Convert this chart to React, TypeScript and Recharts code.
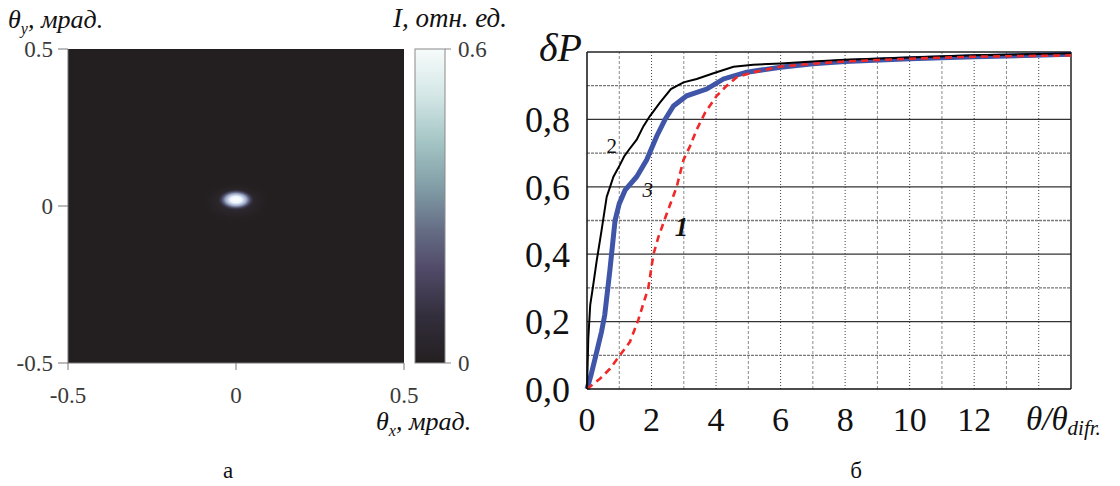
import React from 'react';
import {
  ComposedChart,
  LineChart,
  Line,
  XAxis,
  YAxis,
  ReferenceArea,
  ReferenceLine,
  ReferenceDot,
  Scatter,
} from 'recharts';

// ---------- Panel (a): angular intensity distribution ----------
const mapTicks = [-0.5, 0, 0.5];
const mapExtent = { min: -0.5, max: 0.5 };
const spot = [{ x: 0, y: 0.02, I: 0.6 }];
const colorbarTicks = [0, 0.6];
const colorbarStops = [
  { offset: 0, color: '#f7fbfb' },
  { offset: 0.15, color: '#d3e6e6' },
  { offset: 0.3, color: '#a3c4c4' },
  { offset: 0.45, color: '#7f9aa4' },
  { offset: 0.58, color: '#646c84' },
  { offset: 0.7, color: '#514a68' },
  { offset: 0.85, color: '#332e3c' },
  { offset: 1, color: '#231f20' },
];
const colorbarData = [
  { x: 0.5, y: 0 },
  { x: 0.5, y: 0.6 },
];

// ---------- Panel (б): encircled energy curves ----------
const curve1 = [
  { x: 0, y: 0 }, { x: 0.4, y: 0.03 }, { x: 0.71, y: 0.06 }, { x: 1.02, y: 0.1 },
  { x: 1.33, y: 0.14 }, { x: 1.59, y: 0.205 }, { x: 1.9, y: 0.3 }, { x: 2.06, y: 0.4 },
  { x: 2.21, y: 0.45 }, { x: 2.47, y: 0.52 }, { x: 2.78, y: 0.6 }, { x: 2.99, y: 0.68 },
  { x: 3.19, y: 0.72 }, { x: 3.4, y: 0.77 }, { x: 3.66, y: 0.82 }, { x: 4.02, y: 0.87 },
  { x: 4.33, y: 0.9 }, { x: 4.64, y: 0.925 }, { x: 5.16, y: 0.94 }, { x: 6, y: 0.957 },
  { x: 7, y: 0.965 }, { x: 8, y: 0.972 }, { x: 10, y: 0.98 }, { x: 12, y: 0.986 },
  { x: 15, y: 0.99 },
];
const curve2 = [
  { x: 0, y: 0 }, { x: 0.04, y: 0.15 }, { x: 0.1, y: 0.25 }, { x: 0.18, y: 0.3 },
  { x: 0.3, y: 0.38 }, { x: 0.45, y: 0.47 }, { x: 0.61, y: 0.57 }, { x: 0.82, y: 0.63 },
  { x: 1.02, y: 0.665 }, { x: 1.15, y: 0.69 }, { x: 1.3, y: 0.71 }, { x: 1.54, y: 0.74 },
  { x: 1.75, y: 0.78 }, { x: 1.95, y: 0.81 }, { x: 2.26, y: 0.85 }, { x: 2.6, y: 0.89 },
  { x: 2.99, y: 0.91 }, { x: 3.4, y: 0.92 }, { x: 3.92, y: 0.937 }, { x: 4.54, y: 0.956 },
  { x: 5.15, y: 0.962 }, { x: 6, y: 0.966 }, { x: 7, y: 0.972 }, { x: 8, y: 0.977 },
  { x: 10, y: 0.984 }, { x: 12, y: 0.99 }, { x: 15, y: 0.996 },
];
const curve3 = [
  { x: 0, y: 0 }, { x: 0.12, y: 0.04 }, { x: 0.25, y: 0.09 }, { x: 0.45, y: 0.17 },
  { x: 0.55, y: 0.22 }, { x: 0.71, y: 0.353 }, { x: 0.87, y: 0.5 }, { x: 1.0, y: 0.55 },
  { x: 1.18, y: 0.59 }, { x: 1.54, y: 0.63 }, { x: 1.85, y: 0.68 }, { x: 2.16, y: 0.75 },
  { x: 2.42, y: 0.8 }, { x: 2.68, y: 0.84 }, { x: 3.09, y: 0.87 }, { x: 3.71, y: 0.89 },
  { x: 4.23, y: 0.92 }, { x: 4.95, y: 0.94 }, { x: 6, y: 0.955 }, { x: 7, y: 0.965 },
  { x: 8, y: 0.972 }, { x: 10, y: 0.98 }, { x: 12, y: 0.986 }, { x: 15, y: 0.993 },
];
const xTicks = [0, 1, 2, 3, 4, 5, 6, 7, 8, 9, 10, 11, 12, 13, 14, 15];
const xLabelTicks = [0, 2, 4, 6, 8, 10, 12];
const yTicks = [0, 0.1, 0.2, 0.3, 0.4, 0.5, 0.6, 0.7, 0.8, 0.9, 1.0];
const yLabelTicks = [0, 0.2, 0.4, 0.6, 0.8];
const yGridMajor = [0.2, 0.4, 0.6, 0.8];
const yGridMinor = [0.1, 0.3, 0.5, 0.7, 0.9];
const xGridEven = [2, 4, 6, 8, 10, 12, 14];
const xGridOdd = [1, 3, 5, 7, 9, 11, 13];
const curveLabels = [
  { x: 0.77, y: 0.72, text: '2', size: 21, italic: false, bold: false },
  { x: 1.88, y: 0.59, text: '3', size: 21, italic: true, bold: false },
  { x: 2.93, y: 0.48, text: '1', size: 27, italic: true, bold: true },
];

const SERIF = '"Liberation Serif", "DejaVu Serif", serif';

const SpotShape = (props: any) => {
  const { cx, cy } = props;
  if (cx == null || cy == null) return null;
  return (
    <g>
      <defs>
        <radialGradient id="spotHalo">
          <stop offset="0%" stopColor="#4a4660" stopOpacity={0.6} />
          <stop offset="100%" stopColor="#231f20" stopOpacity={0} />
        </radialGradient>
        <radialGradient id="spotCore">
          <stop offset="0%" stopColor="#ffffff" stopOpacity={1} />
          <stop offset="30%" stopColor="#eef6ff" stopOpacity={1} />
          <stop offset="55%" stopColor="#a9b8d8" stopOpacity={0.9} />
          <stop offset="80%" stopColor="#4d4d72" stopOpacity={0.5} />
          <stop offset="100%" stopColor="#231f20" stopOpacity={0} />
        </radialGradient>
      </defs>
      <ellipse cx={cx} cy={cy + 2} rx={38} ry={22} fill="url(#spotHalo)" />
      <ellipse cx={cx} cy={cy} rx={19} ry={11} fill="url(#spotCore)" />
    </g>
  );
};

const ColorbarRect = (props: any) => {
  const { x, y, width, height } = props;
  return (
    <g>
      <defs>
        <linearGradient id="cbGrad" x1="0" y1="0" x2="0" y2="1">
          {colorbarStops.map((s) => (
            <stop key={s.offset} offset={`${s.offset * 100}%`} stopColor={s.color} />
          ))}
        </linearGradient>
      </defs>
      <rect x={x} y={y} width={width} height={height} fill="url(#cbGrad)" stroke="#8a8a8a" strokeWidth={1} />
    </g>
  );
};

const EmptyShape = () => <g />;

const CurveLabel = (item: any) => (props: any) => {
  const vb = props.viewBox || {};
  const x = vb.x ?? props.x;
  const y = vb.y ?? props.y;
  return (
    <text
      x={x}
      y={y}
      textAnchor="middle"
      dominantBaseline="central"
      fontFamily={SERIF}
      fontSize={item.size}
      fontStyle={item.italic ? 'italic' : 'normal'}
      fontWeight={item.bold ? 'bold' : 'normal'}
      fill="#111"
    >
      {item.text}
    </text>
  );
};

export default function App() {
  return (
    <div
      style={{
        position: 'absolute',
        left: 0,
        top: 0,
        width: 1120,
        height: 486,
        background: '#ffffff',
        overflow: 'hidden',
      }}
    >
      {/* Panel a: map */}
      <div style={{ position: 'absolute', left: 0, top: 0 }}>
        <ComposedChart
          width={520}
          height={486}
          margin={{ top: 49, right: 116, bottom: 93, left: 18 }}
        >
          <XAxis
            type="number"
            dataKey="x"
            domain={[mapExtent.min, mapExtent.max]}
            ticks={mapTicks}
            interval={0}
            height={30}
            tickSize={7}
            tickMargin={17}
            axisLine={{ stroke: '#777' }}
            tickLine={{ stroke: '#777' }}
            tick={{ fontFamily: SERIF, fontSize: 23, fill: '#3a3a3a' }}
            tickFormatter={(v: number) => String(v)}
          />
          <YAxis
            type="number"
            dataKey="y"
            domain={[mapExtent.min, mapExtent.max]}
            ticks={mapTicks}
            interval={0}
            width={50}
            tickSize={10}
            tickMargin={5}
            axisLine={{ stroke: '#777' }}
            tickLine={{ stroke: '#777' }}
            tick={{ fontFamily: SERIF, fontSize: 23, fill: '#3a3a3a' }}
            tickFormatter={(v: number) => String(v)}
          />
          <ReferenceArea
            x1={mapExtent.min}
            x2={mapExtent.max}
            y1={mapExtent.min}
            y2={mapExtent.max}
            fill="#231f20"
            fillOpacity={1}
            stroke="none"
            ifOverflow="visible"
          />
          <Scatter data={spot} dataKey="y" shape={SpotShape} isAnimationActive={false} />
        </ComposedChart>
      </div>

      {/* Panel a: colorbar */}
      <div style={{ position: 'absolute', left: 400, top: 0 }}>
        <ComposedChart
          width={120}
          height={486}
          data={colorbarData}
          margin={{ top: 49, right: 25, bottom: 123, left: 15 }}
        >
          <XAxis type="number" dataKey="x" domain={[0, 1]} hide />
          <YAxis
            type="number"
            dataKey="y"
            orientation="right"
            domain={[colorbarTicks[0], colorbarTicks[1]]}
            ticks={colorbarTicks}
            interval={0}
            width={50}
            tickSize={6}
            tickMargin={7}
            axisLine={false}
            tickLine={{ stroke: '#888' }}
            tick={{ fontFamily: SERIF, fontSize: 23, fill: '#3a3a3a' }}
            tickFormatter={(v: number) => String(v)}
          />
          <ReferenceArea
            x1={0}
            x2={1}
            y1={colorbarTicks[0]}
            y2={colorbarTicks[1]}
            shape={ColorbarRect}
            ifOverflow="visible"
          />
          <Scatter data={colorbarData} dataKey="y" shape={EmptyShape} isAnimationActive={false} />
        </ComposedChart>
      </div>

      {/* Panel б: curves */}
      <div style={{ position: 'absolute', left: 480, top: 0 }}>
        <LineChart
          width={640}
          height={486}
          margin={{ top: 52, right: 49, bottom: 57, left: 17 }}
        >
          <XAxis
            type="number"
            dataKey="x"
            domain={[0, 15]}
            ticks={xTicks}
            interval={0}
            height={40}
            tickLine={false}
            tickMargin={12}
            axisLine={{ stroke: '#111', strokeWidth: 1.5 }}
            tick={{ fontFamily: SERIF, fontSize: 34, fill: '#111' }}
            tickFormatter={(v: number) => (xLabelTicks.includes(v) ? String(v) : '')}
          />
          <YAxis
            type="number"
            dataKey="y"
            domain={[0, 1]}
            ticks={yTicks}
            interval={0}
            width={90}
            tickLine={false}
            tickMargin={11}
            axisLine={{ stroke: '#111', strokeWidth: 1.5 }}
            tick={{ fontFamily: SERIF, fontSize: 36, fill: '#111' }}
            tickFormatter={(v: number) => {
              const m = yLabelTicks.find((t) => Math.abs(t - v) < 1e-6);
              return m === undefined ? '' : m.toFixed(1).replace('.', ',');
            }}
          />
          {xGridOdd.map((v) => (
            <ReferenceLine key={`xo${v}`} x={v} stroke="#8a8a8a" strokeWidth={1} strokeDasharray="3 2" />
          ))}
          {xGridEven.map((v) => (
            <ReferenceLine key={`xe${v}`} x={v} stroke="#444" strokeWidth={1} strokeDasharray="1 2" />
          ))}
          {yGridMinor.map((v) => (
            <ReferenceLine key={`yn${v}`} y={v} stroke="#777" strokeWidth={1.3} strokeDasharray="3 1" />
          ))}
          {yGridMajor.map((v) => (
            <ReferenceLine key={`yj${v}`} y={v} stroke="#333" strokeWidth={1.2} />
          ))}
          <ReferenceLine y={1} stroke="#222" strokeWidth={1.5} />
          <ReferenceLine x={15} stroke="#222" strokeWidth={1.5} />
          <Line
            data={curve3}
            dataKey="y"
            type="linear"
            stroke="#3f55a8"
            strokeWidth={5}
            dot={false}
            isAnimationActive={false}
          />
          <Line
            data={curve2}
            dataKey="y"
            type="linear"
            stroke="#000"
            strokeWidth={2}
            dot={false}
            isAnimationActive={false}
          />
          <Line
            data={curve1}
            dataKey="y"
            type="linear"
            stroke="#f02828"
            strokeWidth={2.6}
            strokeDasharray="7 5"
            dot={false}
            isAnimationActive={false}
          />
          {curveLabels.map((c) => (
            <ReferenceDot
              key={c.text}
              x={c.x}
              y={c.y}
              r={0}
              fill="none"
              stroke="none"
              label={CurveLabel(c)}
            />
          ))}
        </LineChart>
      </div>

      {/* Free text: axis titles and panel letters */}
      <svg
        width={1120}
        height={486}
        style={{ position: 'absolute', left: 0, top: 0, pointerEvents: 'none' }}
      >
        <text x={8} y={28} fontFamily={SERIF} fontSize={26} fontStyle="italic" fill="#111">
          θ<tspan fontSize={16} dy={6}>y</tspan>
          <tspan dy={-6}>, мрад.</tspan>
        </text>
        <text x={507} y={27} textAnchor="end" fontFamily={SERIF} fontSize={27} fontStyle="italic" fill="#111">
          I, отн. ед.
        </text>
        <text x={376} y={430} fontFamily={SERIF} fontSize={26} fontStyle="italic" fill="#111">
          θ<tspan fontSize={16} dy={6}>x</tspan>
          <tspan dy={-6}>, мрад.</tspan>
        </text>
        <text x={228} y={478} textAnchor="middle" fontFamily={SERIF} fontSize={23} fill="#111">
          а
        </text>
        <text x={856} y={478} textAnchor="middle" fontFamily={SERIF} fontSize={23} fill="#111">
          б
        </text>
        <text x={582} y={61} textAnchor="end" fontFamily={SERIF} fontSize={40} fontStyle="italic" fill="#111">
          δP
        </text>
        <text x={1026} y={430} fontFamily={SERIF} fontSize={33} fontStyle="italic" fill="#111">
          θ/θ<tspan fontSize={21} dy={5}>difr.</tspan>
        </text>
      </svg>
    </div>
  );
}
